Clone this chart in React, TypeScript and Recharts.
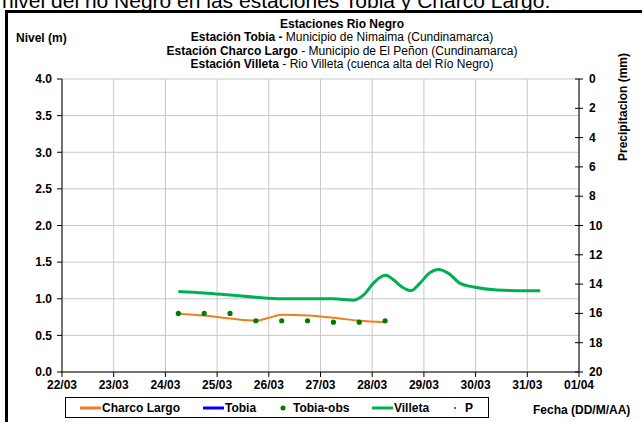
import React from "react";
import {
    ComposedChart,
    Line,
    Scatter,
    XAxis,
    YAxis,
    CartesianGrid,
} from "recharts";

// dias contados desde 22/03
const dateLabels = ["22/03", "23/03", "24/03", "25/03", "26/03", "27/03", "28/03", "29/03", "30/03", "31/03", "01/04"];
const dayTicks = [0, 1, 2, 3, 4, 5, 6, 7, 8, 9, 10];
const levelTicks = [0, 0.5, 1, 1.5, 2, 2.5, 3, 3.5, 4];
const rainTicks = [0, 2, 4, 6, 8, 10, 12, 14, 16, 18, 20];

const villetaDays = [2.25, 2.75, 3.25, 3.75, 4.25, 4.75, 5.25, 5.45, 5.62, 5.83, 6.02, 6.15, 6.26, 6.41, 6.57, 6.75, 6.92, 7.12, 7.28, 7.47, 7.7, 7.96, 8.41, 9.0, 9.25];
const villetaLevel = [1.1, 1.08, 1.05, 1.02, 1.0, 1.0, 1.0, 0.99, 0.98, 1.05, 1.21, 1.29, 1.32, 1.26, 1.165, 1.11, 1.21, 1.36, 1.4, 1.35, 1.21, 1.16, 1.12, 1.11, 1.11];

const charcoDays = [2.25, 2.75, 3.25, 3.75, 4.0, 4.25, 4.75, 5.25, 5.75, 6.25];
const charcoLevel = [0.8, 0.77, 0.73, 0.7, 0.74, 0.78, 0.77, 0.74, 0.7, 0.68];

const tobiaDays: number[] = [];
const tobiaLevel: number[] = [];

const tobiaObsDays = [2.25, 2.75, 3.25, 3.75, 4.25, 4.75, 5.25, 5.75, 6.25];
const tobiaObsLevel = [0.8, 0.8, 0.8, 0.7, 0.7, 0.7, 0.68, 0.68, 0.7];

const rainDays: number[] = [];
const rainMm: number[] = [];

const legendItems = [
    { name: "Charco Largo", kind: "line", color: "#f07d1e" },
    { name: "Tobia", kind: "line", color: "#0000ff" },
    { name: "Tobia-obs", kind: "dot", color: "#007a00" },
    { name: "Villeta", kind: "line", color: "#00b050" },
    { name: "P", kind: "square", color: "#00a040" },
];

const FONT = "'Liberation Sans', Arial, sans-serif";

const toPts = (xs: number[], ys: number[]) => xs.map((x, i) => ({ x, v: ys[i] }));

const RainTick = (props: any) => {
    const { x, y, payload } = props;
    return (
        <g>
            <line x1={x - 4} x2={x + 4} y1={y} y2={y} stroke="#000" />
            <text x={x + 10} y={y} dy={4} fontSize={12} fontWeight="bold" fontFamily={FONT} fill="#000">
                {payload.value}
            </text>
        </g>
    );
};

const ObsDot = (props: any) => (
    <circle cx={props.cx} cy={props.cy} r={2.6} fill="#007a00" />
);

export default function App() {
    const villeta = toPts(villetaDays, villetaLevel);
    const charco = toPts(charcoDays, charcoLevel);
    const tobia = toPts(tobiaDays, tobiaLevel);
    const obs = toPts(tobiaObsDays, tobiaObsLevel);
    const rain = toPts(rainDays, rainMm);

    const tickStyle = { fontSize: 12, fontWeight: "bold", fill: "#000", fontFamily: FONT };

    return (
        <div style={{ position: "absolute", left: 0, top: 0, width: 642, height: 422, overflow: "hidden", background: "#fff" }}>
            <ComposedChart
                width={642}
                height={422}
                margin={{ top: 79, right: 13, bottom: 20, left: 12 }}
            >
                <CartesianGrid stroke="#c8c8c8" strokeWidth={1} />
                <XAxis
                    dataKey="x"
                    type="number"
                    domain={[0, 10]}
                    ticks={dayTicks}
                    tickFormatter={(d: number) => dateLabels[d]}
                    height={30}
                    tickSize={5}
                    tickMargin={3}
                    stroke="#000"
                    tick={tickStyle}
                    interval={0}
                    allowDataOverflow
                />
                <YAxis
                    type="number"
                    domain={[0, 4]}
                    ticks={levelTicks}
                    tickFormatter={(v: number) => v.toFixed(1)}
                    width={50}
                    tickSize={5}
                    tickMargin={5}
                    stroke="#000"
                    tick={tickStyle}
                    interval={0}
                    allowDataOverflow
                />
                <YAxis
                    yAxisId="p"
                    orientation="right"
                    type="number"
                    domain={[0, 20]}
                    reversed
                    ticks={rainTicks}
                    width={50}
                    tickSize={0}
                    tickMargin={0}
                    stroke="#000"
                    tick={(p: any) => <RainTick {...p} />}
                    interval={0}
                    allowDataOverflow
                />
                <Line data={villeta} dataKey="v" type="monotone" stroke="#00b050" strokeWidth={3} dot={false} isAnimationActive={false} />
                <Line data={charco} dataKey="v" type="monotone" stroke="#f07d1e" strokeWidth={2} dot={false} isAnimationActive={false} />
                <Line data={tobia} dataKey="v" type="monotone" stroke="#0000ff" strokeWidth={2} dot={false} isAnimationActive={false} />
                <Scatter data={obs} dataKey="v" shape={<ObsDot />} isAnimationActive={false} />
                <Line data={rain} dataKey="v" yAxisId="p" stroke="none" dot={{ r: 1, fill: "#00a040", stroke: "none" }} isAnimationActive={false} />
            </ComposedChart>

            <svg width={642} height={422} style={{ position: "absolute", left: 0, top: 0, pointerEvents: "none" }} fontFamily={FONT}>
                <text x={2} y={8} fontSize={21} fill="#000">
                    nivel del rio Negro en las estaciones Tobia y Charco Largo.
                </text>
                <rect x={5} y={10} width={700} height={3} fill="#000" />
                <rect x={5} y={10} width={3} height={420} fill="#000" />

                <g fontSize={12} textAnchor="middle" fill="#000" style={{ whiteSpace: "pre" }}>
                    <text x={342} y={28} fontWeight="bold">Estaciones Rio Negro</text>
                    <text x={342} y={41}>
                        <tspan fontWeight="bold">{"Estación Tobia  - "}</tspan>
                        <tspan>Municipio de Nimaima (Cundinamarca)</tspan>
                    </text>
                    <text x={342} y={55}>
                        <tspan fontWeight="bold">Estación Charco Largo</tspan>
                        <tspan>{" - Municipio de El Peñon (Cundinamarca)"}</tspan>
                    </text>
                    <text x={342} y={68}>
                        <tspan fontWeight="bold">Estación Villeta</tspan>
                        <tspan>{" -  Rio Villeta (cuenca alta del Río Negro)"}</tspan>
                    </text>
                </g>
                <text x={16} y={42} fontSize={12} fontWeight="bold">Nivel (m)</text>
                <text
                    x={0}
                    y={0}
                    fontSize={12}
                    fontWeight="bold"
                    textAnchor="middle"
                    transform="translate(627 107) rotate(-90)"
                >
                    Precipitacion (mm)
                </text>
                <text x={533} y={414} fontSize={12} fontWeight="bold">Fecha (DD/M/AA)</text>

                <rect x={65.5} y={397.5} width={423} height={20} fill="#fff" stroke="#000" />
                {legendItems.map((it, i) => {
                    const xs = [80, 203, 280, 372, 452];
                    const x0 = xs[i];
                    const cy = 408;
                    return (
                        <g key={it.name}>
                            {it.kind === "line" && <line x1={x0} x2={x0 + 21} y1={cy} y2={cy} stroke={it.color} strokeWidth={3} />}
                            {it.kind === "dot" && <circle cx={x0 + 3} cy={cy} r={2.5} fill={it.color} />}
                            {it.kind === "square" && <rect x={x0 + 2} y={cy - 1} width={2} height={2} fill={it.color} />}
                            <text
                                x={it.kind === "line" ? x0 + 22 : x0 + 13}
                                y={cy + 4}
                                fontSize={12}
                                fontWeight="bold"
                            >
                                {it.name}
                            </text>
                        </g>
                    );
                })}
            </svg>
        </div>
    );
}
